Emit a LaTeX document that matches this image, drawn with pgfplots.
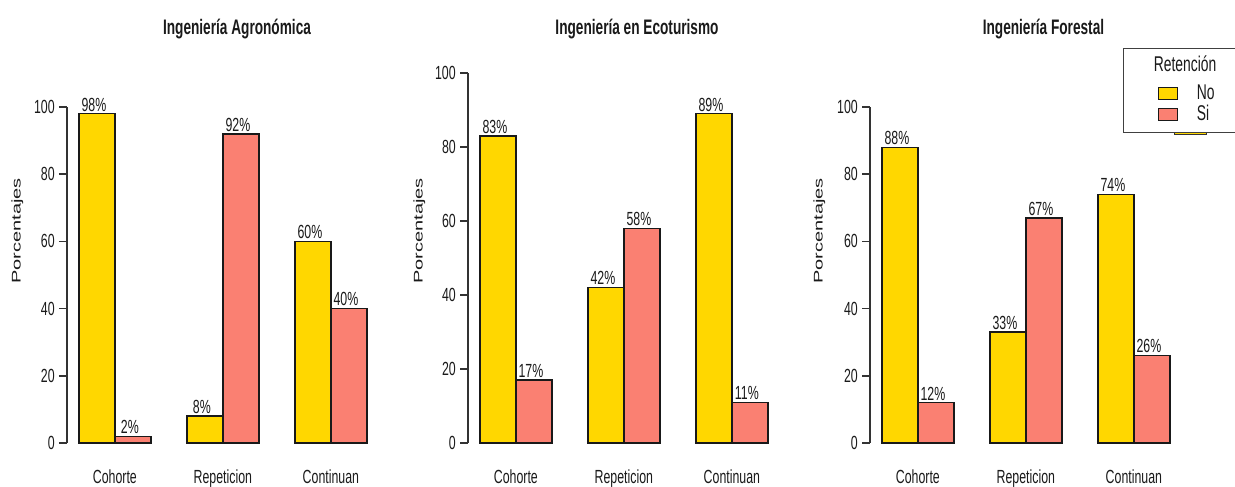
\documentclass[border=0pt]{standalone}
\usepackage{pgfplots}
\pgfplotsset{compat=1.18}
\usepackage{fontspec}
\setmainfont{Liberation Sans}[FakeStretch=0.65]
\newfontfamily\widefont{Liberation Sans}

\definecolor{oro}{HTML}{FFD700}
\definecolor{salmon}{HTML}{FA8072}
\definecolor{tinta}{HTML}{1A1A1A}

% 1 px of the reference = 0.75pt
\pgfplotsset{
  panel/.style={
    ybar, bar width=1, bar shift=0pt,
    xmin=0.67, xmax=9.33, ymin=0, ymax=100,
    x=27pt,
    anchor=south west,
    clip=false,
    axis y line=left, axis x line=bottom,
    x axis line style={draw=none},
    y axis line style={-, line width=1.2pt, black!80},
    major x tick style={draw=none},
    major y tick style={line width=1.2pt, black!80},
    tick align=outside, major tick length=6pt,
    ytick={0,20,...,100},
    xtick={2,5,8},
    xticklabels={Cohorte,Repeticion,Continuan},
    /pgf/number format/assume math mode=true,
    tick label style={font=\fontsize{14.25}{16}\selectfont, text=tinta},
    yticklabel style={inner sep=0pt, xshift=-3pt},
    xticklabel style={anchor=base, inner sep=0pt, yshift=-24pt},
    nodes near coords={\pgfmathprintnumber{\pgfplotspointmeta}\%},
    nodes near coords style={font=\fontsize{14.25}{16}\selectfont, text=tinta,
      anchor=base, inner sep=0pt, yshift=2pt, xshift=-2.25pt},
    every axis plot/.append style={draw=black!90, line width=1.1pt},
  },
}

\begin{document}
\begin{tikzpicture}
\useasboundingbox (0,0) rectangle (926.25pt,364.5pt);

% Ingenieria Agronomica
\begin{axis}[panel, y=2.52pt, at={(50.25pt,32.25pt)}]
  \addplot[fill=oro] coordinates {(1.5,98) (4.5,8) (7.5,60)};
  \addplot[fill=salmon] coordinates {(2.5,2) (5.5,92) (8.5,40)};
\end{axis}

% Ingenieria en Ecoturismo
\begin{axis}[panel, y=2.775pt, at={(351pt,32.25pt)}]
  \addplot[fill=oro] coordinates {(1.5,83) (4.5,42) (7.5,89)};
  \addplot[fill=salmon] coordinates {(2.5,17) (5.5,58) (8.5,11)};
\end{axis}

% small strip that peeks out under the legend
\filldraw[fill=oro, draw=black!80, line width=0.75pt]
  (880.5pt,263.25pt) rectangle (904.5pt,265.5pt);

% Ingenieria Forestal
\begin{axis}[panel, y=2.52pt, at={(652.5pt,32.25pt)},
  legend style={at={(axis cs:7.70,117.6)}, anchor=north west,
    draw=black!75, line width=0.9pt, fill=white,
    inner xsep=25.5pt, inner ysep=6pt,
    column sep=14.25pt, row sep=1.75pt,
    font=\fontsize{16}{18}\selectfont, text=tinta,
    nodes={inner sep=0pt, text height=11pt, text depth=3pt}},
  legend cell align=left,
  legend image code/.code={
    \draw[#1, draw=black!90, line width=0.9pt] (0pt,-4.5pt) rectangle (14.25pt,4.5pt);},
  ]
  \addlegendimage{empty legend}
  \addlegendentry[text depth=8.25pt]{\hspace*{-32.25pt}Retención}
  \addplot[fill=oro] coordinates {(1.5,88) (4.5,33) (7.5,74)};
  \addlegendentry{No}
  \addplot[fill=salmon] coordinates {(2.5,12) (5.5,67) (8.5,26)};
  \addlegendentry{Si}
\end{axis}

% titles
\node[anchor=base, inner sep=0pt, text=tinta, font=\bfseries\fontsize{15.75}{18}\selectfont]
  at (177.75pt,338.25pt) {Ingeniería Agronómica};
\node[anchor=base, inner sep=0pt, text=tinta, font=\bfseries\fontsize{15.75}{18}\selectfont]
  at (477.75pt,338.25pt) {Ingeniería en Ecoturismo};
\node[anchor=base, inner sep=0pt, text=tinta, font=\bfseries\fontsize{15.75}{18}\selectfont]
  at (782.6pt,338.25pt) {Ingeniería Forestal};

% y labels
\foreach \xx in {13.1pt,314.6pt,614.6pt}
  \node[rotate=90, inner sep=0pt, text=tinta] at (\xx,191.25pt)
    {\scalebox{1}[0.63]{\widefont\fontsize{15}{17}\selectfont Porcentajes}};
\end{tikzpicture}
\end{document}
